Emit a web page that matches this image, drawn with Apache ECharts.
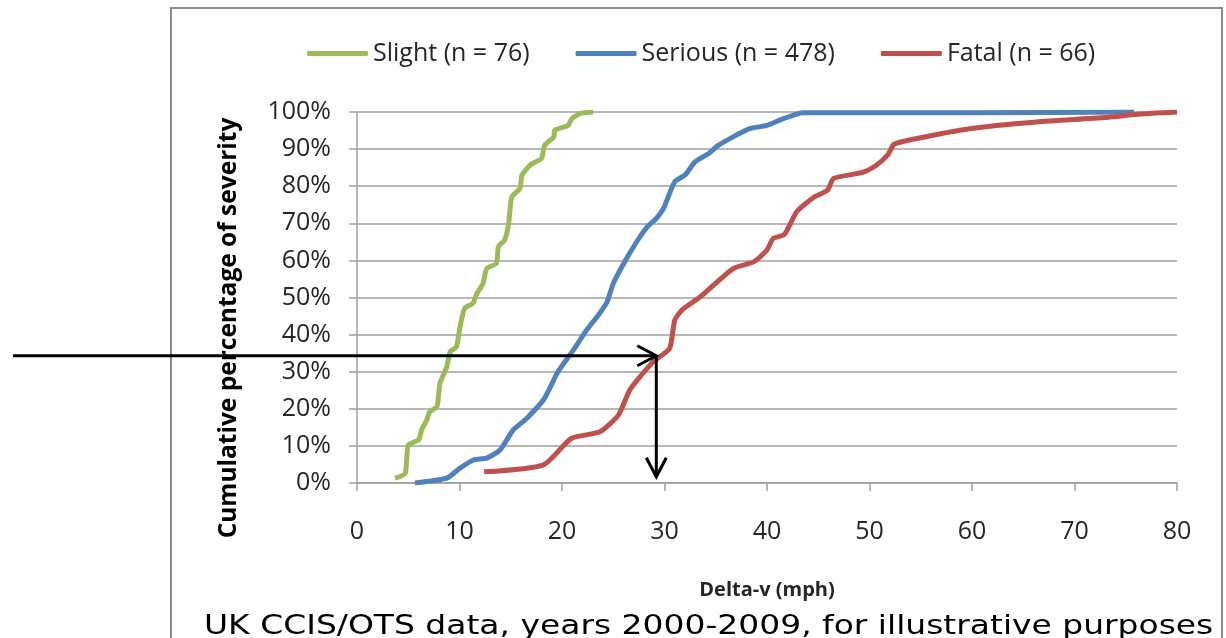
<!DOCTYPE html>
<html>
<head>
<meta charset="utf-8">
<script src="https://cdn.jsdelivr.net/npm/echarts@6/dist/echarts.min.js"></script>
<style>
html, body { margin: 0; padding: 0; background: #fff; }
#main { width: 1226px; height: 638px; }
</style>
</head>
<body>
<div id="main"></div>
<script>
// cumulative % of casualties by delta-v (mph)
var seriesNames = ['Slight (n = 76)', 'Serious (n = 478)', 'Fatal (n = 66)'];
var seriesColors = ['#9bbb59', '#4f81bd', '#c0504d'];

var slight = [
    [3.7, 1.3], [4.7, 2.6], [5.0, 10.2], [6.0, 11.6], [6.3, 14.3], [6.8, 17], [7.1, 19.2],
    [7.8, 20.6], [8.1, 26.9], [8.75, 31.3], [9.1, 35.4], [9.7, 36.7], [10.05, 42.1],
    [10.5, 47.1], [11.3, 48.4], [11.7, 51.1], [12.3, 53.8], [12.65, 57.8], [13.6, 59.2],
    [13.8, 63.7], [14.4, 65.5], [14.8, 70], [15.1, 77.1], [15.9, 79.4], [16.1, 83],
    [16.9, 85.7], [18.0, 87.5], [18.3, 91], [19.2, 93.3], [19.3, 95.1], [20.6, 96.4],
    [20.95, 98.2], [21.8, 99.6], [23.05, 100]
];

var serious = [
    [5.65, 0], [8.75, 1.3], [10.05, 4], [11.35, 6.2], [12.65, 6.7], [13.95, 8.9],
    [15.25, 14.3], [16.55, 17.4], [18.2, 22.4], [18.8, 25.5], [19.6, 30], [21.1, 35.8],
    [22.4, 41.2], [23.55, 45.3], [24.4, 48.8], [25.0, 53.8], [26.3, 60.5], [27.4, 65.5],
    [28.3, 69], [29.2, 71.3], [29.9, 74], [31.0, 81.2], [32.0, 83], [33.0, 86.6],
    [34.3, 88.8], [35.25, 91], [36.7, 93.3], [38.3, 95.5], [40.0, 96.4], [41.6, 98.2],
    [43.5, 99.8], [60, 99.8], [75.8, 100]
];

var fatal = [
    [12.4, 3.0], [18.2, 4.9], [20.9, 12], [23.7, 13.8], [25.5, 18.3], [26.6, 25],
    [27.6, 28.6], [28.9, 32.7], [30.5, 36.3], [31.0, 43.9], [31.7, 46.6], [33.5, 50.2],
    [36.7, 57.8], [38.7, 59.6], [40.0, 62.8], [40.6, 65.9], [41.7, 67], [42.9, 73.1],
    [44.6, 77.1], [45.9, 78.9], [46.5, 82.1], [49.3, 83.7], [50.6, 85.5], [51.8, 88.5],
    [52.4, 91.3], [54.5, 92.8], [59.75, 95.5], [66.3, 97.3], [72.9, 98.5], [76.2, 99.4],
    [80, 100]
];

var xRange = [0, 80], xStep = 10;
var yRange = [0, 100], yStep = 10;

// the reading shown by the arrows: delta-v at 34% of fatalities
var arrowAt = [29.2, 34.3];
var arrowEndY = 1.7;

var labelFont = "'Open Sans', sans-serif";
var gridColor = '#a0a0a0';

var chart = echarts.init(document.getElementById('main'));

var option = {
    animation: false,
    backgroundColor: '#fff',
    legend: {
        left: 302,
        top: 36,
        itemWidth: 61,
        itemHeight: 5,
        itemGap: 46,
        icon: 'roundRect',
        textStyle: { fontFamily: labelFont, fontSize: 25, color: '#262626' },
        data: seriesNames
    },
    grid: {
        left: 357,
        right: 49,
        top: 112,
        bottom: 155,
        outerBoundsMode: 'none'
    },
    xAxis: {
        type: 'value',
        min: xRange[0],
        max: xRange[1],
        interval: xStep,
        name: 'Delta-v (mph)',
        nameLocation: 'middle',
        nameGap: 97,
        nameTextStyle: { fontFamily: labelFont, fontSize: 20, fontWeight: 'bold', color: '#262626' },
        axisLine: { lineStyle: { color: gridColor, width: 1.5 } },
        axisTick: { show: true, length: 8, lineStyle: { color: gridColor, width: 1.5 } },
        axisLabel: { margin: 36, fontFamily: labelFont, fontSize: 25, color: '#262626' },
        splitLine: { show: false }
    },
    yAxis: {
        type: 'value',
        min: yRange[0],
        max: yRange[1],
        interval: yStep,
        axisLine: { show: true, lineStyle: { color: gridColor, width: 1.5 } },
        axisTick: { show: true, length: 8, lineStyle: { color: gridColor, width: 1.5 } },
        axisLabel: { margin: 26, formatter: '{value}%', fontFamily: labelFont, fontSize: 25, color: '#262626' },
        splitLine: { show: true, lineStyle: { color: gridColor, width: 1.5 } }
    },
    series: [slight, serious, fatal].map(function (pts, i) {
        return {
            name: seriesNames[i],
            type: 'line',
            data: pts,
            smooth: 0.2,
            showSymbol: false,
            color: seriesColors[i],
            lineStyle: { width: 5, color: seriesColors[i] }
        };
    })
};

chart.setOption(option);

// frame, y title, arrows and footnote go on top of the finished grid
var p = chart.convertToPixel({ gridIndex: 0 }, arrowAt);
var q = chart.convertToPixel({ gridIndex: 0 }, [arrowAt[0], arrowEndY]);
var arrowStyle = { stroke: '#000', lineWidth: 3, fill: null };

chart.setOption({
    graphic: [
        {
            type: 'rect', z: -1, silent: true,
            shape: { x: 171, y: 8, width: 1051, height: 680 },
            style: { stroke: '#8c8c8c', lineWidth: 2, fill: null }
        },
        {
            type: 'text', x: 229, y: 328, rotation: Math.PI / 2,
            style: {
                text: 'Cumulative percentage of severity',
                font: "bold 24.5px 'Open Sans', sans-serif",
                fill: '#000', align: 'center', verticalAlign: 'middle'
            }
        },
        { type: 'polyline', z: 100, shape: { points: [[13, p[1]], p] }, style: arrowStyle },
        { type: 'polyline', z: 100, shape: { points: [[p[0] - 19, p[1] - 10], p, [p[0] - 19, p[1] + 10]] }, style: arrowStyle },
        { type: 'polyline', z: 100, shape: { points: [p, q] }, style: arrowStyle },
        { type: 'polyline', z: 100, shape: { points: [[q[0] - 10, q[1] - 19], q, [q[0] + 10, q[1] - 19]] }, style: arrowStyle },
        {
            type: 'text', z: 100, x: 204, y: 613, scaleX: 1.22,
            style: {
                text: 'UK CCIS/OTS data, years 2000-2009, for illustrative purposes',
                font: "27px 'DejaVu Sans', Verdana, sans-serif",
                fill: '#000'
            }
        }
    ]
});

window.addEventListener('resize', function () { chart.resize(); });
</script>
</body>
</html>
